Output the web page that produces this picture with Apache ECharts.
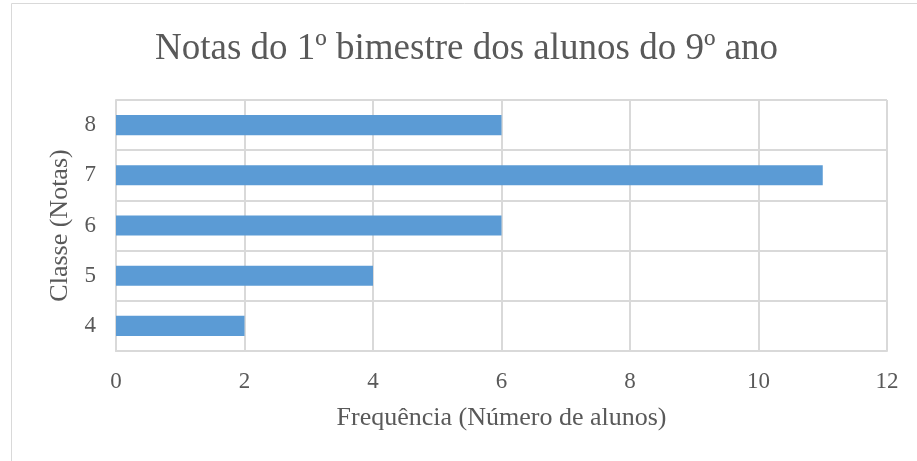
<!DOCTYPE html>
<html>
<head>
<meta charset="utf-8">
<script src="https://cdn.jsdelivr.net/npm/echarts@6/dist/echarts.min.js"></script>
<style>
html,body{margin:0;padding:0;background:#fff;}
#main{width:917px;height:461px;}
</style>
</head>
<body>
<div id="main"></div>
<script>
var notas = ['4', '5', '6', '7', '8'];
var frequencia = [2, 4, 6, 11, 6];
var xTicks = [0, 12, 2];

var myChart = echarts.init(document.getElementById('main'));
var fonte = '"Liberation Serif", "Times New Roman", serif';
var option = {
    animation: false,
    title: {
        text: 'Notas do 1º bimestre dos alunos do 9º ano',
        left: 155,
        top: 31,
        padding: 0,
        textStyle: {
            fontFamily: fonte,
            fontSize: 37,
            fontWeight: 'normal',
            color: '#595959'
        }
    },
    graphic: [{
        type: 'rect',
        shape: { x: 11.5, y: 3.5, width: 940, height: 480 },
        style: { fill: 'none', stroke: '#d9d9d9', lineWidth: 1 },
        z: -1
    }],
    grid: { left: 116, right: 30, top: 100, bottom: 110 },
    xAxis: {
        type: 'value',
        min: xTicks[0],
        max: xTicks[1],
        interval: xTicks[2],
        name: 'Frequência (Número de alunos)',
        nameLocation: 'middle',
        nameGap: 54,
        nameTextStyle: { fontFamily: fonte, fontSize: 26, color: '#595959' },
        axisLine: { show: true, lineStyle: { color: '#d9d9d9', width: 2 } },
        axisTick: { show: false },
        axisLabel: { fontFamily: fonte, fontSize: 23, color: '#595959', margin: 19 },
        splitLine: { show: true, lineStyle: { color: '#d9d9d9', width: 2 } }
    },
    yAxis: {
        type: 'category',
        data: notas,
        name: 'Classe (Notas)',
        nameLocation: 'middle',
        nameGap: 42,
        nameTextStyle: { fontFamily: fonte, fontSize: 26, color: '#595959' },
        axisLine: { show: true, lineStyle: { color: '#d9d9d9', width: 2 } },
        axisTick: { show: false },
        axisLabel: { fontFamily: fonte, fontSize: 23, color: '#595959', margin: 20 },
        splitLine: { show: true, lineStyle: { color: '#d9d9d9', width: 2 } }
    },
    series: [{
        name: 'Frequência',
        type: 'bar',
        data: frequencia,
        barWidth: '40%',
        itemStyle: { color: '#5b9bd5' }
    }]
};
myChart.setOption(option);
</script>
</body>
</html>
